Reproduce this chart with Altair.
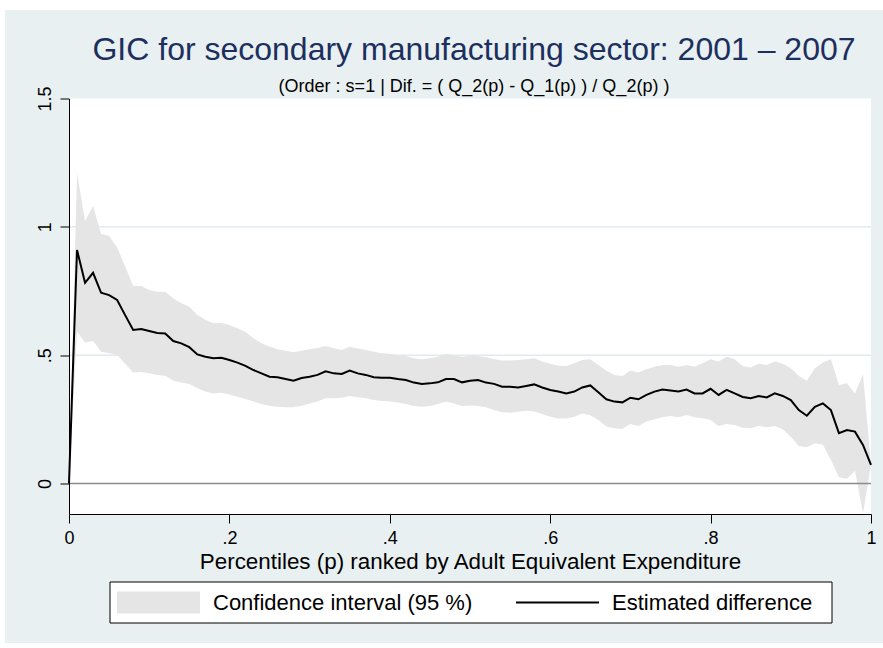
import json

import altair as alt
import pandas as pd

# ---------------------------------------------------------------------------
# Growth incidence curve data (percentile grid, estimate and 95 % bounds)
# ---------------------------------------------------------------------------
percentile = [
    0.00, 0.01, 0.02, 0.03, 0.04, 0.05, 0.06, 0.07, 0.08, 0.09,
    0.10, 0.11, 0.12, 0.13, 0.14, 0.15, 0.16, 0.17, 0.18, 0.19,
    0.20, 0.21, 0.22, 0.23, 0.24, 0.25, 0.26, 0.27, 0.28, 0.29,
    0.30, 0.31, 0.32, 0.33, 0.34, 0.35, 0.36, 0.37, 0.38, 0.39,
    0.40, 0.41, 0.42, 0.43, 0.44, 0.45, 0.46, 0.47, 0.48, 0.49,
    0.50, 0.51, 0.52, 0.53, 0.54, 0.55, 0.56, 0.57, 0.58, 0.59,
    0.60, 0.61, 0.62, 0.63, 0.64, 0.65, 0.66, 0.67, 0.68, 0.69,
    0.70, 0.71, 0.72, 0.73, 0.74, 0.75, 0.76, 0.77, 0.78, 0.79,
    0.80, 0.81, 0.82, 0.83, 0.84, 0.85, 0.86, 0.87, 0.88, 0.89,
    0.90, 0.91, 0.92, 0.93, 0.94, 0.95, 0.96, 0.97, 0.98, 0.99,
    1.00,
]

estimate = [
    0.000, 0.910, 0.782, 0.821, 0.743, 0.734, 0.715, 0.656, 0.598, 0.602,
    0.594, 0.586, 0.584, 0.555, 0.546, 0.531, 0.503, 0.494, 0.488, 0.490,
    0.481, 0.471, 0.458, 0.442, 0.429, 0.416, 0.414, 0.407, 0.400, 0.411,
    0.416, 0.423, 0.437, 0.429, 0.427, 0.440, 0.429, 0.423, 0.414, 0.412,
    0.412, 0.407, 0.403, 0.393, 0.388, 0.390, 0.394, 0.407, 0.407, 0.394,
    0.400, 0.403, 0.393, 0.388, 0.377, 0.377, 0.374, 0.380, 0.386, 0.374,
    0.364, 0.358, 0.351, 0.358, 0.374, 0.382, 0.355, 0.328, 0.319, 0.316,
    0.334, 0.328, 0.345, 0.358, 0.366, 0.362, 0.358, 0.366, 0.351, 0.351,
    0.369, 0.345, 0.365, 0.351, 0.337, 0.332, 0.341, 0.335, 0.351, 0.341,
    0.325, 0.286, 0.264, 0.299, 0.312, 0.286, 0.196, 0.208, 0.202, 0.150,
    0.072,
]

ci_upper = [
    0.000, 1.211, 1.023, 1.081, 0.972, 0.964, 0.920, 0.845, 0.769, 0.769,
    0.754, 0.747, 0.747, 0.721, 0.702, 0.689, 0.656, 0.638, 0.624, 0.625,
    0.617, 0.605, 0.591, 0.566, 0.546, 0.533, 0.523, 0.517, 0.511, 0.517,
    0.523, 0.528, 0.536, 0.527, 0.520, 0.533, 0.526, 0.520, 0.513, 0.507,
    0.505, 0.500, 0.497, 0.488, 0.484, 0.488, 0.494, 0.505, 0.500, 0.494,
    0.498, 0.497, 0.492, 0.484, 0.479, 0.479, 0.481, 0.484, 0.488, 0.475,
    0.466, 0.459, 0.458, 0.468, 0.481, 0.484, 0.462, 0.439, 0.423, 0.419,
    0.440, 0.432, 0.445, 0.455, 0.462, 0.462, 0.455, 0.462, 0.455, 0.468,
    0.484, 0.475, 0.494, 0.484, 0.458, 0.452, 0.466, 0.462, 0.475, 0.466,
    0.449, 0.419, 0.400, 0.449, 0.471, 0.484, 0.384, 0.390, 0.351, 0.427,
    0.072,
]

ci_lower = [
    0.000, 0.591, 0.549, 0.555, 0.513, 0.507, 0.502, 0.466, 0.432, 0.434,
    0.429, 0.423, 0.420, 0.400, 0.393, 0.388, 0.371, 0.358, 0.351, 0.353,
    0.347, 0.338, 0.329, 0.319, 0.310, 0.303, 0.299, 0.297, 0.297, 0.303,
    0.312, 0.319, 0.332, 0.332, 0.334, 0.341, 0.336, 0.332, 0.325, 0.321,
    0.319, 0.315, 0.310, 0.302, 0.299, 0.302, 0.310, 0.319, 0.312, 0.302,
    0.304, 0.302, 0.297, 0.286, 0.277, 0.276, 0.279, 0.283, 0.280, 0.271,
    0.260, 0.253, 0.253, 0.260, 0.273, 0.266, 0.247, 0.222, 0.215, 0.212,
    0.232, 0.224, 0.241, 0.250, 0.258, 0.263, 0.258, 0.267, 0.258, 0.254,
    0.247, 0.224, 0.232, 0.228, 0.217, 0.215, 0.224, 0.219, 0.224, 0.211,
    0.182, 0.146, 0.141, 0.157, 0.151, 0.092, 0.024, 0.018, 0.050, -0.116,
    0.072,
]

series_names = ["Confidence interval (95 %)", "Estimated difference"]
series_colors = ["#e5e5e5", "#000000"]

x_tick_values = [0, 0.2, 0.4, 0.6, 0.8, 1]
x_tick_labels = ["0", ".2", ".4", ".6", ".8", "1"]
y_tick_values = [0, 0.5, 1, 1.5]
y_tick_labels = ["0", ".5", "1", "1.5"]
y_gridlines = [0.5, 1.0]
zero_line = [0.0]

title_text = "GIC for secondary manufacturing sector: 2001 \u2013 2007"
subtitle_text = "(Order : s=1 | Dif. = ( Q_2(p) - Q_1(p) ) / Q_2(p) )"
x_title = "Percentiles (p) ranked by Adult Equivalent Expenditure"

# ---------------------------------------------------------------------------
# Styling
# ---------------------------------------------------------------------------
FONT = "Liberation Sans"
PANEL = "#e8f0f2"
GRID = "#e1eaee"
TITLE_COLOR = "#1c2f5e"
W, H = 802, 415.5

df = pd.DataFrame({"p": percentile, "est": estimate, "lo": ci_lower, "hi": ci_upper})

x_scale = alt.Scale(domain=[0, 1], nice=False, zero=False)
y_scale = alt.Scale(domain=[-0.119, 1.5], nice=False, zero=False)
fill_scale = alt.Scale(domain=series_names[:1], range=series_colors[:1])
stroke_scale = alt.Scale(domain=series_names[1:], range=series_colors[1:])


def label_lookup(values, labels):
    return f"{json.dumps(labels)}[indexof({json.dumps(values)}, datum.value)]"


x_axis = alt.Axis(
    values=x_tick_values,
    labelExpr=label_lookup(x_tick_values, x_tick_labels),
    labelFlush=False,
    grid=False,
    domainColor="black",
    domainWidth=1,
    tickColor="black",
    tickWidth=1,
    tickSize=9,
    labelFont=FONT,
    labelFontSize=18,
    labelColor="black",
    labelPadding=6,
    title=x_title,
    titleFont=FONT,
    titleFontSize=22.4,
    titleFontWeight="normal",
    titleColor="black",
    titleBaseline="alphabetic",
    titleY=54,
    zindex=1,
)

y_axis = alt.Axis(
    values=y_tick_values,
    labelExpr=label_lookup(y_tick_values, y_tick_labels),
    labelFlush=False,
    labelOverlap=False,
    grid=False,
    domainColor="black",
    domainWidth=1,
    tickColor="black",
    tickWidth=1,
    tickSize=9,
    labelFont=FONT,
    labelFontSize=18,
    labelColor="black",
    labelAngle=270,
    labelAlign="center",
    labelBaseline="alphabetic",
    labelPadding=9.5,
    title=None,
    zindex=1,
)

legend_common = dict(
    title=None,
    orient="none",
    legendY=491.5,
    direction="horizontal",
    padding=0,
    labelFont=FONT,
    labelFontSize=22,
    labelColor="black",
    labelOffset=12,
    labelLimit=400,
    symbolSize=6889,
    symbolStrokeWidth=2,
    symbolOpacity=1,
    clipHeight=25,
)

fill_legend = alt.Legend(
    legendX=47,
    symbolType="M-1,-0.265H1V0.265H-1Z",
    symbolStrokeColor="transparent",
    **legend_common,
)
stroke_legend = alt.Legend(
    legendX=446,
    symbolType="stroke",
    symbolFillColor="transparent",
    **legend_common,
)

one_row = alt.Data(values=[{"k": 0}])

# light graph region behind everything
panel = alt.Chart(one_row).mark_rect(color=PANEL).encode(
    x=alt.value(-64), x2=alt.value(814), y=alt.value(-88.5), y2=alt.value(544.5)
)

# white plot region
plot_bg = alt.Chart(one_row).mark_rect(color="white").encode(
    x=alt.value(0), x2=alt.value("width"), y=alt.value(0), y2=alt.value("height")
)

# frame holding the two legend entries
legend_box = alt.Chart(one_row).mark_rect(
    fill="white", stroke="black", strokeWidth=1
).encode(x=alt.value(41), x2=alt.value(763), y=alt.value(483.5), y2=alt.value(524.5))

grid = alt.Chart(pd.DataFrame({"g": y_gridlines})).mark_rule(
    color=GRID, strokeWidth=1.5
).encode(y=alt.Y("g:Q", scale=y_scale, axis=y_axis))

band = (
    alt.Chart(df)
    .transform_calculate(series=json.dumps(series_names[0]))
    .mark_area(opacity=1, interpolate="linear")
    .encode(
        x=alt.X("p:Q", scale=x_scale, axis=x_axis),
        y=alt.Y("hi:Q", scale=y_scale, axis=y_axis),
        y2="lo:Q",
        fill=alt.Fill("series:N", scale=fill_scale, legend=fill_legend),
    )
)

zero = alt.Chart(pd.DataFrame({"z": zero_line})).mark_rule(
    color="#8c8c8c", strokeWidth=1.5
).encode(y=alt.Y("z:Q", scale=y_scale, axis=y_axis))

line = (
    alt.Chart(df)
    .transform_calculate(series=json.dumps(series_names[1]))
    .mark_line(strokeWidth=2, interpolate="linear")
    .encode(
        x=alt.X("p:Q", scale=x_scale, axis=x_axis),
        y=alt.Y("est:Q", scale=y_scale, axis=y_axis),
        stroke=alt.Stroke("series:N", scale=stroke_scale, legend=stroke_legend),
    )
)

chart = (
    alt.layer(panel, plot_bg, grid, band, zero, line, legend_box)
    .resolve_scale(fill="independent", stroke="independent")
    .properties(
        width=W,
        height=H,
        autosize=alt.AutoSizeParams(type="none"),
        padding={"left": 69, "top": 98.5, "right": 12, "bottom": 134},
        title=alt.TitleParams(
            text=title_text,
            subtitle=subtitle_text,
            font=FONT,
            fontSize=32,
            fontWeight="normal",
            color=TITLE_COLOR,
            subtitleFont=FONT,
            subtitleFontSize=18,
            subtitleColor="black",
            subtitlePadding=11,
            anchor="middle",
            frame="group",
            offset=-86.5,
            dx=4,
        ),
    )
    .configure(background="white", font=FONT)
    .configure_view(strokeWidth=0)
)

chart.save("out.html", embed_options={"renderer": "svg", "actions": False})
